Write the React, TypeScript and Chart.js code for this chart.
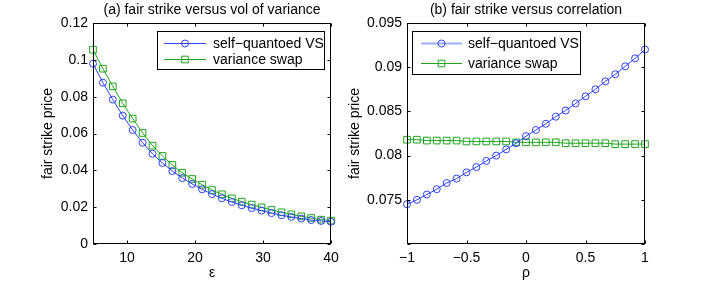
import React, { useEffect, useRef } from "react";
import { Chart, registerables } from "chart.js";
Chart.register(...registerables);

// ---------- data ----------
const seriesNames = ["self\u2212quantoed VS", "variance swap"];

const epsX = [5, 6.458, 7.917, 9.375, 10.833, 12.292, 13.75, 15.208, 16.667, 18.125, 19.583, 21.042, 22.5, 23.958, 25.417, 26.875, 28.333, 29.792, 31.25, 32.708, 34.167, 35.625, 37.083, 38.542, 40];
const sqvsEps = [0.0979, 0.0876, 0.0784, 0.0697, 0.0619, 0.055, 0.049, 0.044, 0.0396, 0.0358, 0.0326, 0.0297, 0.0271, 0.0248, 0.0228, 0.021, 0.0195, 0.0181, 0.0168, 0.0156, 0.0147, 0.0138, 0.013, 0.0125, 0.0121];
const vsEps = [0.1055, 0.0952, 0.0856, 0.0764, 0.0681, 0.0603, 0.0534, 0.0478, 0.0429, 0.0387, 0.0353, 0.0322, 0.0293, 0.027, 0.0248, 0.023, 0.0214, 0.0199, 0.0185, 0.0172, 0.0161, 0.015, 0.0141, 0.0132, 0.0127];

const rhoX = [-1, -0.9167, -0.8333, -0.75, -0.6667, -0.5833, -0.5, -0.4167, -0.3333, -0.25, -0.1667, -0.0833, 0, 0.0833, 0.1667, 0.25, 0.3333, 0.4167, 0.5, 0.5833, 0.6667, 0.75, 0.8333, 0.9167, 1];
const sqvsRho = [0.0745, 0.075, 0.0756, 0.0762, 0.0769, 0.0774, 0.0781, 0.0787, 0.0794, 0.08, 0.0807, 0.0814, 0.0822, 0.0829, 0.0836, 0.0844, 0.0851, 0.0859, 0.0867, 0.0875, 0.0884, 0.0892, 0.0901, 0.091, 0.092];
const vsRho = [0.0818, 0.0818, 0.0817, 0.0817, 0.0817, 0.0817, 0.0816, 0.0816, 0.0816, 0.0816, 0.0816, 0.0815, 0.0815, 0.0815, 0.0815, 0.0815, 0.0814, 0.0814, 0.0814, 0.0814, 0.0814, 0.0813, 0.0813, 0.0813, 0.0813];

const epsTicks = [10, 20, 30, 40];
const epsTickLabels = ["10", "20", "30", "40"];
const priceTicksA = [0, 0.02, 0.04, 0.06, 0.08, 0.1, 0.12];
const priceTickLabelsA = ["0", "0.02", "0.04", "0.06", "0.08", "0.1", "0.12"];
const rhoTicks = [-1, -0.5, 0, 0.5, 1];
const rhoTickLabels = ["\u22121", "\u22120.5", "0", "0.5", "1"];
const priceTicksB = [0.07, 0.075, 0.08, 0.085, 0.09, 0.095];
const priceTickLabelsB = ["", "0.075", "0.08", "0.085", "0.09", "0.095"];

// ---------- styles ----------
const BLUE = "rgb(45,65,255)";
const GREEN = "rgb(30,165,30)";
const FONT = "'Liberation Sans', Arial, Helvetica, sans-serif";
const H = 282;
const AREA_TOP = 23;
const AREA_BOTTOM = 244;

type Cfg = {
  title: string;
  xLabel: string;
  yLabel: string;
  x: number[];
  s1: number[];
  s2: number[];
  xMin: number; xMax: number; yMin: number; yMax: number;
  xTicks: number[]; xTickLabels: string[];
  yTicks: number[]; yTickLabels: string[];
  canvasLeft: number; canvasWidth: number;
  areaLeft: number; areaRight: number;
  yLabelX: number;
  legend: { x: number; y: number; w: number; h: number; rows: number[]; s0: number; s1: number; tx: number; firstWide: boolean };
};

const panelA: Cfg = {
  title: "(a) fair strike versus vol of variance",
  xLabel: "\u03b5",
  yLabel: "fair strike price",
  x: epsX, s1: sqvsEps, s2: vsEps,
  xMin: 5, xMax: 40, yMin: 0, yMax: 0.12,
  xTicks: epsTicks, xTickLabels: epsTickLabels,
  yTicks: priceTicksA, yTickLabels: priceTickLabelsA,
  canvasLeft: 0, canvasWidth: 345,
  areaLeft: 93, areaRight: 331,
  yLabelX: 48,
  legend: { x: 157, y: 31, w: 167, h: 38, rows: [43, 59], s0: 164, s1: 206, tx: 213, firstWide: false },
};

const panelB: Cfg = {
  title: "(b) fair strike versus correlation",
  xLabel: "\u03c1",
  yLabel: "fair strike price",
  x: rhoX, s1: sqvsRho, s2: vsRho,
  xMin: -1, xMax: 1, yMin: 0.07, yMax: 0.095,
  xTicks: rhoTicks, xTickLabels: rhoTickLabels,
  yTicks: priceTicksB, yTickLabels: priceTickLabelsB,
  canvasLeft: 340, canvasWidth: 373,
  areaLeft: 67, areaRight: 305,
  yLabelX: 15,
  legend: { x: 72, y: 31, w: 168, h: 43, rows: [43, 63], s0: 81, s1: 122, tx: 128, firstWide: true },
};

function drawMarker(ctx: CanvasRenderingContext2D, kind: string, x: number, y: number, color: string) {
  ctx.save();
  ctx.strokeStyle = color;
  ctx.lineWidth = 1;
  ctx.beginPath();
  if (kind === "circle") {
    ctx.arc(x, y, 3.5, 0, Math.PI * 2);
  } else {
    ctx.rect(x - 3.3, y - 3.3, 6.6, 6.6);
  }
  ctx.stroke();
  ctx.restore();
}

function framePlugin(cfg: Cfg) {
  return {
    id: "frame",
    afterDraw(chart: any) {
      const ctx: CanvasRenderingContext2D = chart.ctx;
      const a = chart.chartArea;
      const xs = chart.scales.x;
      const ys = chart.scales.y;
      ctx.save();
      // box
      ctx.strokeStyle = "#000";
      ctx.lineWidth = 1;
      const L = Math.round(a.left) + 0.5;
      const R = Math.round(a.right) - 0.5;
      const T = Math.round(a.top) + 0.5;
      const B = Math.round(a.bottom) - 0.5;
      ctx.strokeRect(L, T, R - L, B - T);
      // inward ticks
      ctx.beginPath();
      cfg.xTicks.forEach((v) => {
        const px = Math.round(xs.getPixelForValue(v)) + 0.5;
        ctx.moveTo(px, B); ctx.lineTo(px, B - 3);
        ctx.moveTo(px, T); ctx.lineTo(px, T + 3);
      });
      cfg.yTicks.forEach((v) => {
        const py = Math.round(ys.getPixelForValue(v)) + 0.5;
        ctx.moveTo(L, py); ctx.lineTo(L + 3, py);
        ctx.moveTo(R, py); ctx.lineTo(R - 3, py);
      });
      ctx.stroke();
      // title
      ctx.fillStyle = "#000";
      ctx.font = `14px ${FONT}`;
      ctx.textAlign = "center";
      ctx.textBaseline = "middle";
      const cx = (a.left + a.right) / 2;
      ctx.fillText(cfg.title, cx, 10);
      // x label
      ctx.font = `14px ${FONT}`;
      ctx.fillText(cfg.xLabel, cx, 273);
      // y label
      ctx.save();
      ctx.translate(cfg.yLabelX, (a.top + a.bottom) / 2);
      ctx.rotate(-Math.PI / 2);
      ctx.fillText(cfg.yLabel, 0, 0);
      ctx.restore();
      // legend
      const lg = cfg.legend;
      const lx = lg.x;
      ctx.fillStyle = "#fff";
      ctx.fillRect(lx + 0.5, lg.y + 0.5, lg.w, lg.h);
      ctx.strokeStyle = "#000";
      ctx.strokeRect(lx + 0.5, lg.y + 0.5, lg.w, lg.h);
      const colors = [BLUE, GREEN];
      const kinds = ["circle", "rect"];
      lg.rows.forEach((ry, i) => {
        ctx.save();
        if (i === 0 && lg.firstWide) {
          ctx.strokeStyle = "rgba(90,120,255,0.6)";
          ctx.lineWidth = 2;
        } else {
          ctx.strokeStyle = colors[i];
          ctx.lineWidth = 1;
        }
        ctx.beginPath();
        ctx.moveTo(lg.s0, ry + 0.5);
        ctx.lineTo(lg.s1, ry + 0.5);
        ctx.stroke();
        ctx.restore();
        drawMarker(ctx, kinds[i], (lg.s0 + lg.s1) / 2, ry + 0.5, colors[i]);
        ctx.fillStyle = "#000";
        ctx.font = `14px ${FONT}`;
        ctx.textAlign = "left";
        ctx.textBaseline = "middle";
        ctx.fillText(seriesNames[i], lg.tx, ry + 1);
      });
      ctx.restore();
    },
  };
}

function Panel({ cfg }: { cfg: Cfg }) {
  const ref = useRef<HTMLCanvasElement>(null);
  useEffect(() => {
    const canvas = ref.current!;
    const tickFont = { family: FONT, size: 14 };
    const chart = new Chart(canvas, {
      type: "line",
      data: {
        datasets: [
          {
            label: seriesNames[0],
            data: cfg.x.map((x, i) => ({ x, y: cfg.s1[i] })),
            borderColor: BLUE,
            borderWidth: 1,
            pointStyle: "circle",
            pointRadius: 3.5,
            pointBorderWidth: 1,
            pointBorderColor: BLUE,
            pointBackgroundColor: "rgba(0,0,0,0)",
            fill: false,
            tension: 0,
            clip: false,
          } as any,
          {
            label: seriesNames[1],
            data: cfg.x.map((x, i) => ({ x, y: cfg.s2[i] })),
            borderColor: GREEN,
            borderWidth: 1,
            pointStyle: "rect",
            pointRadius: 4.7,
            pointBorderWidth: 1,
            pointBorderColor: GREEN,
            pointBackgroundColor: "rgba(0,0,0,0)",
            fill: false,
            tension: 0,
            clip: false,
          } as any,
        ],
      },
      options: {
        animation: false,
        responsive: false,
        maintainAspectRatio: false,
        events: [],
        layout: {
          padding: { top: AREA_TOP, right: cfg.canvasWidth - cfg.areaRight, bottom: 0, left: 0 },
        },
        plugins: {
          legend: { display: false },
          title: { display: false },
          tooltip: { enabled: false },
        },
        scales: {
          x: {
            type: "linear",
            min: cfg.xMin,
            max: cfg.xMax,
            grid: { display: false, drawTicks: false },
            border: { display: false },
            ticks: {
              font: tickFont,
              color: "#000",
              padding: 6,
              maxRotation: 0,
              autoSkip: false,
              callback: (v: any) => {
                const i = cfg.xTicks.findIndex((t) => Math.abs(t - v) < 1e-9);
                return i >= 0 ? cfg.xTickLabels[i] : "";
              },
            },
            afterBuildTicks: (s: any) => {
              s.ticks = cfg.xTicks.map((v) => ({ value: v }));
            },
            afterFit: (s: any) => {
              s.height = H - AREA_BOTTOM;
            },
          },
          y: {
            type: "linear",
            min: cfg.yMin,
            max: cfg.yMax,
            grid: { display: false, drawTicks: false },
            border: { display: false },
            ticks: {
              font: tickFont,
              color: "#000",
              padding: 5,
              autoSkip: false,
              callback: (v: any) => {
                const i = cfg.yTicks.findIndex((t) => Math.abs(t - v) < 1e-9);
                return i >= 0 ? cfg.yTickLabels[i] : "";
              },
            },
            afterBuildTicks: (s: any) => {
              s.ticks = cfg.yTicks.map((v) => ({ value: v }));
            },
            afterFit: (s: any) => {
              s.width = cfg.areaLeft;
            },
          },
        },
      } as any,
      plugins: [framePlugin(cfg) as any],
    });
    return () => chart.destroy();
  }, [cfg]);
  return (
    <canvas
      ref={ref}
      width={cfg.canvasWidth}
      height={H}
      style={{ position: "absolute", left: cfg.canvasLeft, top: 0, width: cfg.canvasWidth, height: H }}
    />
  );
}

export default function App() {
  return (
    <div style={{ position: "fixed", left: 0, top: 0, width: 713, height: H, background: "#fff" }}>
      <Panel cfg={panelA} />
      <Panel cfg={panelB} />
    </div>
  );
}
